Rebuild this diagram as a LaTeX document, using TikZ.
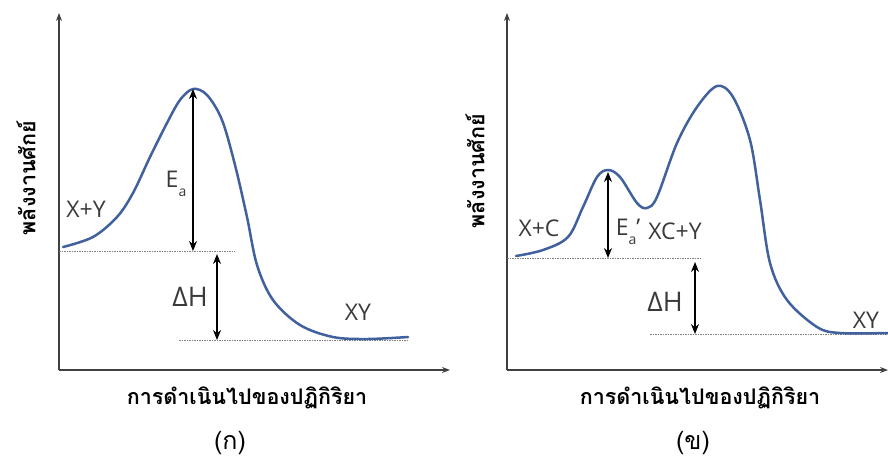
\documentclass[tikz,border=0pt]{standalone}
\usepackage{fontspec}
\setmainfont{Open Sans}
\newfontfamily\thaifont[Script=Thai]{Loma}
\usetikzlibrary{arrows.meta}
\definecolor{curveblue}{HTML}{41609E}
\definecolor{axisgray}{HTML}{404040}
\definecolor{txtgray}{HTML}{3A3A3A}
\newcommand{\eaLabel}{E\raisebox{-0.7ex}{\fontsize{14}{14}\selectfont a}}
\tikzset{
  axisline/.style={draw=axisgray, line width=1.1pt, -{Stealth[length=8pt,width=6pt]}},
  curveline/.style={draw=curveblue, line width=2.5pt, line cap=round, line join=round},
  guide/.style={draw=gray, line width=0.7pt, dash pattern=on 1.5pt off 1pt},
  dimarrow/.style={draw=black, line width=1.2pt, {Stealth[length=10pt,width=8pt]}-{Stealth[length=10pt,width=8pt]}},
  lbl/.style={text=txtgray, font=\fontsize{23}{23}\selectfont, inner sep=0pt},
  biglbl/.style={text=txtgray, font=\fontsize{27}{27}\selectfont, inner sep=0pt},
  thaiax/.style={text=black, font=\thaifont\bfseries\fontsize{21.5}{21.5}\selectfont, inner sep=0pt},
  caplbl/.style={text=black, font=\thaifont\fontsize{25}{25}\selectfont, inner sep=0pt}
}
\begin{document}
\begin{tikzpicture}[x=1pt,y=-1pt]
\useasboundingbox (0,0) rectangle (888,459);
% ---------- left panel ----------
\coordinate (lo) at (59,370);
\coordinate (ly) at (59,13);
\coordinate (lx) at (450,370);
\draw[axisline] (lo) -- (ly);
\draw[axisline] (lo) -- (lx);
\coordinate (lg1a) at (59,251);
\coordinate (lg1b) at (235,251);
\coordinate (lg2a) at (179,340);
\coordinate (lg2b) at (408,340);
\draw[guide] (lg1a) -- (lg1b);
\draw[guide] (lg2a) -- (lg2b);
\draw[curveline] plot[smooth, tension=0.55] coordinates {(63,247) (93,237) (117,217) (133,193) (150,157) (167,123) (180,100) (193,89) (207,95) (222,120) (235,165) (247,217) (257,265) (273,300) (300,325) (333,337) (367,339) (408,337)};
\coordinate (lpk) at (193,89);
\coordinate (lpb) at (193,251);
\draw[dimarrow] (lpk) -- (lpb);
\coordinate (ldt) at (217,254);
\coordinate (ldb) at (217,340);
\draw[dimarrow] (ldt) -- (ldb);
\node[lbl] (lxy) at (86,209) {X+Y};
\node[lbl] (lea) at (176,184) {\eaLabel};
\node[biglbl] (ldh) at (190,297) {ΔH};
\node[lbl] (lprod) at (358,312) {XY};
\node[thaiax, rotate=90] (lyl) at (26,178) {พลังงานศักย์};
\node[thaiax] (lxl) at (247,398) {การดำเนินไปของปฏิกิริยา};
\node[caplbl] (lcap) at (230,443) {(ก)};
% ---------- right panel ----------
\coordinate (ro) at (507,370);
\coordinate (ry) at (507,13);
\coordinate (rx) at (888,370);
\draw[axisline] (ro) -- (ry);
\draw[axisline] (ro) -- (rx);
\coordinate (rg1a) at (507,258);
\coordinate (rg1b) at (700,258);
\coordinate (rg2a) at (650,334);
\coordinate (rg2b) at (888,334);
\draw[guide] (rg1a) -- (rg1b);
\draw[guide] (rg2a) -- (rg2b);
\draw[curveline] plot[smooth, tension=0.55] coordinates {(516,256) (543,250) (568,237) (583,207) (597,177) (608,170) (620,177) (637,203) (647,208) (657,197) (677,143) (697,107) (717,86) (733,97) (750,140) (760,200) (770,263) (787,300) (817,327) (840,333) (888,333)};
\coordinate (rpk) at (608,172);
\coordinate (rpb) at (608,258);
\draw[dimarrow] (rpk) -- (rpb);
\coordinate (rdt) at (695,262);
\coordinate (rdb) at (695,334);
\draw[dimarrow] (rdt) -- (rdb);
\node[lbl] (rxc) at (539,228) {X+C};
\node[lbl] (rea) at (628,232) {\eaLabel’};
\node[lbl] (rxcy) at (675,231) {XC+Y};
\node[biglbl] (rdh) at (665,302) {ΔH};
\node[lbl] (rprod) at (866,320) {XY};
\node[thaiax, rotate=90] (ryl) at (475,171) {พลังงานศักย์};
\node[thaiax] (rxl) at (700,398) {การดำเนินไปของปฏิกิริยา};
\node[caplbl] (rcap) at (693,443) {(ข)};
\end{tikzpicture}
\end{document}
